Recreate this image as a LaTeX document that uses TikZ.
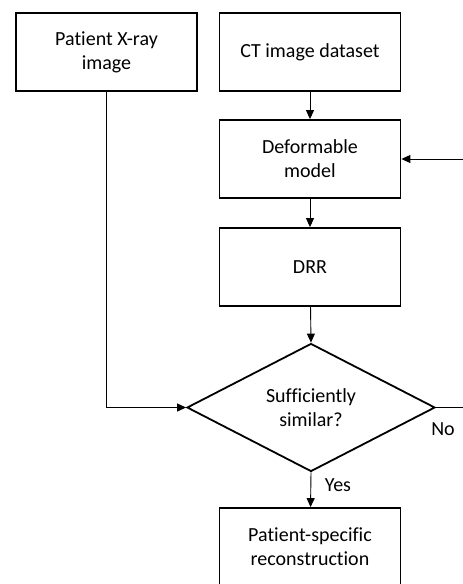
\documentclass[tikz,border=0pt]{standalone}
\usepackage{fontspec}
\setmainfont{Carlito}[Ligatures=NoCommon]
\usetikzlibrary{shapes.geometric,arrows.meta}
\begin{document}
\begin{tikzpicture}[x=1pt,y=-1pt,
  every node/.style={font=\fontsize{20}{24}\selectfont, align=center},
  procbox/.style={draw, line width=1.8pt, minimum width=181pt, minimum height=78pt, inner sep=0pt},
  decision/.style={draw, diamond, line width=1.8pt, minimum width=248pt, minimum height=125pt, inner sep=0pt},
  conn/.style={line width=0.9pt, -{Triangle[length=9pt,width=8pt]}},
  plain/.style={line width=0.9pt},
  lbl/.style={inner sep=0pt}]
\useasboundingbox (0,0) rectangle (463,584);
\clip (0,0) rectangle (463,584);
\node[procbox] (xray) at (106.5,52) {Patient X-ray\\image};
\node[procbox] (ct) at (310,52) {CT image dataset};
\node[procbox] (def) at (310,159) {Deformable\\model};
\node[procbox] (drr) at (310,267) {DRR};
\node[decision] (dia) at (311,407.5) {Sufficiently\\similar?};
\node[procbox] (res) at (310,547) {Patient-specific\\reconstruction};
\coordinate (fbR) at (463,407.5);
\coordinate (fbT) at (463,159);
\draw[conn] (ct) -- (def);
\draw[conn] (def) -- (drr);
\draw[conn] (drr) -- (dia.north);
\draw[conn] (dia.south) -- (res);
\draw[conn] (xray.south) |- (dia.west);
\draw[plain] (dia.east) -- (fbR);
\draw[conn] (fbT) -- (def.east);
\node[lbl] (no) at (443,429) {No};
\node[lbl] (yes) at (338,485) {Yes};
\end{tikzpicture}
\end{document}
